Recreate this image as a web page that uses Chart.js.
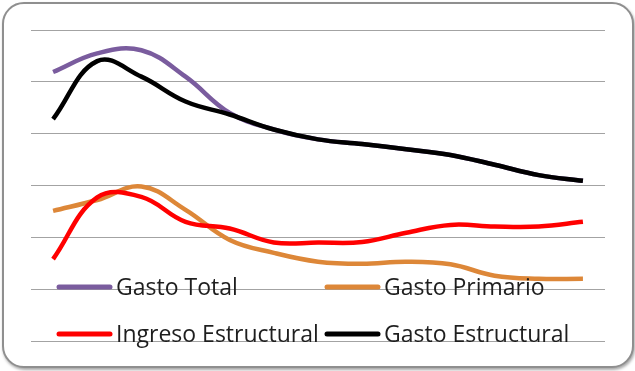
<!DOCTYPE html>
<html>
<head>
<meta charset="utf-8">
<script src="https://cdn.jsdelivr.net/npm/chart.js@4.4.0/dist/chart.umd.min.js"></script>
<style>
    html, body { margin: 0; padding: 0; background: #ffffff; }
    #marco {
        position: absolute;
        left: 2px; top: 2px;
        width: 628px; height: 362px;
        border: 2px solid #8f8f8f;
        border-radius: 22px;
        box-shadow: 1px 2px 3px rgba(0, 0, 0, 0.35);
        background: #ffffff;
    }
    #chart-container { position: absolute; left: 0; top: 0; width: 635px; height: 371px; }
</style>
</head>
<body>
<div id="marco"></div>
<div id="chart-container"><canvas id="myChart" width="635" height="371"></canvas></div>
<script>
// Periodos (el eje x no lleva rótulos)
var periodos = ['1', '2', '3', '4', '5', '6', '7', '8', '9', '10', '11', '12', '13'];

// Series
var gastoTotal         = [5.19, 5.55, 5.61, 5.10, 4.40, 4.08, 3.89, 3.80, 3.70, 3.59, 3.40, 3.20, 3.09];
var gastoPrimario      = [2.51, 2.72, 2.98, 2.53, 1.95, 1.70, 1.53, 1.49, 1.53, 1.48, 1.26, 1.20, 1.20];
var ingresoEstructural = [1.58, 2.77, 2.78, 2.30, 2.17, 1.90, 1.90, 1.91, 2.09, 2.24, 2.21, 2.21, 2.30];
var gastoEstructural   = [4.28, 5.40, 5.10, 4.62, 4.37, 4.08, 3.89, 3.80, 3.70, 3.59, 3.40, 3.20, 3.09];

// Escala vertical
var yMin = 0, yMax = 6, yPaso = 1;

function serie(label, data, color, orden) {
    return {
        label: label,
        data: data,
        borderColor: color,
        backgroundColor: color,
        borderWidth: 4.5,
        pointRadius: 0,
        tension: 0.4,
        order: orden,
        borderCapStyle: 'butt'
    };
}

// Leyenda dibujada dentro del área del gráfico, en dos columnas
var leyendaInterna = {
    id: 'leyendaInterna',
    afterDatasetsDraw: function (chart) {
        var ctx = chart.ctx;
        var cols = [57, 325];
        var filas = [287, 334];
        ctx.save();
        ctx.font = '23px "Open Sans"';
        ctx.textBaseline = 'middle';
        ctx.fillStyle = '#1e1e1e';
        chart.data.datasets.forEach(function (ds, i) {
            var x = cols[i % 2];
            var y = filas[Math.floor(i / 2)];
            ctx.strokeStyle = ds.borderColor;
            ctx.lineWidth = 5;
            ctx.lineCap = 'round';
            ctx.beginPath();
            ctx.moveTo(x + 2, y);
            ctx.lineTo(x + 53, y);
            ctx.stroke();
            ctx.fillText(ds.label, x + 59, y + 1);
        });
        ctx.restore();
    }
};

var ctx = document.getElementById('myChart').getContext('2d');
var myChart = new Chart(ctx, {
    type: 'line',
    data: {
        labels: periodos,
        datasets: [
            serie('Gasto Total', gastoTotal, '#7a5c9e', 3),
            serie('Gasto Primario', gastoPrimario, '#dd8738', 2),
            serie('Ingreso Estructural', ingresoEstructural, '#ff0000', 1),
            serie('Gasto Estructural', gastoEstructural, '#000000', 0)
        ]
    },
    options: {
        responsive: false,
        animation: false,
        layout: { padding: { left: 31, right: 30, top: 30, bottom: 30 } },
        plugins: {
            legend: { display: false },
            tooltip: { enabled: false }
        },
        scales: {
            x: {
                display: false,
                offset: true
            },
            y: {
                min: yMin,
                max: yMax,
                ticks: { display: false, stepSize: yPaso },
                border: { display: false },
                grid: { color: '#a3a3a3', lineWidth: 1, drawTicks: false },
                afterFit: function (scale) { scale.width = 0; }
            }
        }
    },
    plugins: [leyendaInterna]
});
</script>
</body>
</html>
